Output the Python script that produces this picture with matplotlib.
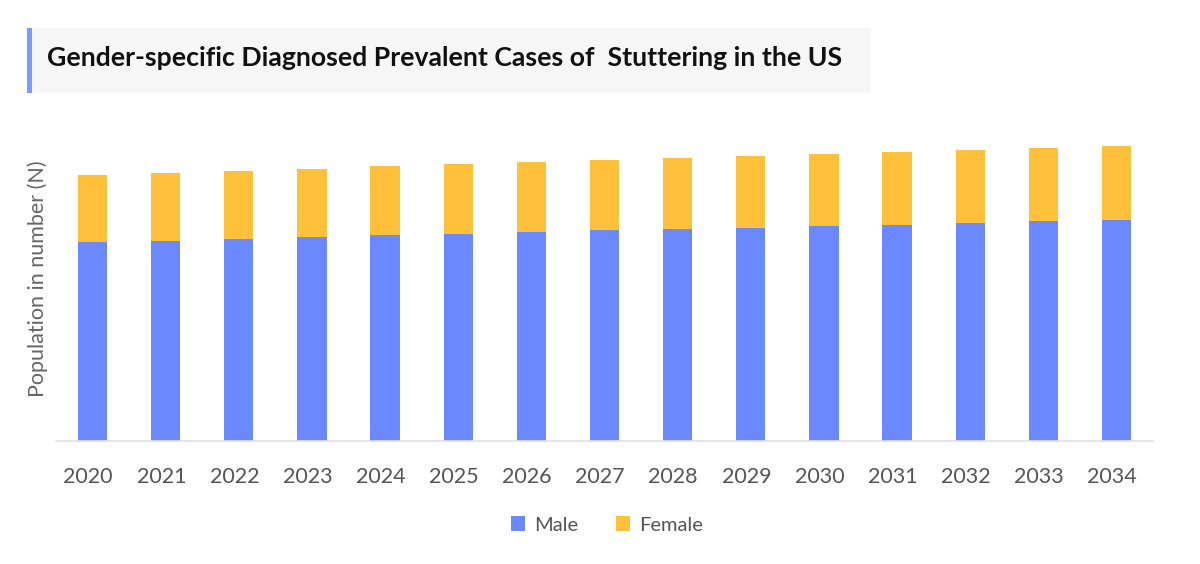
import matplotlib.pyplot as plt
from matplotlib.patches import Rectangle
import numpy as np

plt.rcParams['font.family'] = ['Lato', 'DejaVu Sans']

years = ['2020', '2021', '2022', '2023', '2024', '2025', '2026', '2027',
         '2028', '2029', '2030', '2031', '2032', '2033', '2034']
male = [199000, 200300, 202000, 204000, 205700, 207300, 209000, 211000,
        212000, 213300, 215000, 216000, 217700, 220000, 221300]
female = [67000, 67700, 68300, 68300, 69000, 69700, 70000, 70000,
          71000, 72000, 72000, 73000, 73000, 73300, 74000]

male_color = '#6b88ff'
female_color = '#ffc13b'

fig = plt.figure(figsize=(12, 5.64), dpi=100)
ax = fig.add_axes([56 / 1200, (564 - 441) / 564, (1153 - 56) / 1200, (441 - 130) / 564])

x = np.arange(len(years))
ax.bar(x, male, width=0.4, color=male_color, label='Male', zorder=2)
ax.bar(x, female, width=0.4, bottom=male, color=female_color, label='Female', zorder=2)

ax.set_xlim(-0.5, len(years) - 0.5)
ax.set_ylim(0, 311000)
ax.set_xticks(x - 0.06)
ax.set_xticklabels(years, fontsize=15.5, color='#555555')
ax.tick_params(axis='x', length=0, pad=19)
ax.set_yticks([])
for side in ['top', 'right', 'left']:
    ax.spines[side].set_visible(False)
ax.spines['bottom'].set_color('#e0e0e0')
ax.spines['bottom'].set_linewidth(1.2)

fig.text(38 / 1200, 1 - 279 / 564, 'Population in number (N)', rotation=90,
         ha='center', va='center', fontsize=15.5, color='#666666')

# title box
fig.patches.append(Rectangle((27 / 1200, 1 - 93 / 564), (870 - 27) / 1200, 65 / 564,
                             transform=fig.transFigure, facecolor='#f6f6f6',
                             edgecolor='none', zorder=0))
fig.patches.append(Rectangle((27 / 1200, 1 - 93 / 564), 5 / 1200, 65 / 564,
                             transform=fig.transFigure, facecolor='#7b9cff',
                             edgecolor='none', zorder=1))
fig.text(47 / 1200, 1 - 58 / 564,
         'Gender-specific Diagnosed Prevalent Cases of  Stuttering in the US',
         ha='left', va='center', fontsize=19.2, fontweight='bold', color='#111111')

fig.legend(loc='center', bbox_to_anchor=(607 / 1200, 1 - 525 / 564), ncol=2,
           frameon=False, fontsize=14.5, handlelength=0.7, handleheight=0.7,
           handletextpad=0.45, columnspacing=1.9, labelcolor='#555555')

fig.savefig('out.png', dpi=100)
